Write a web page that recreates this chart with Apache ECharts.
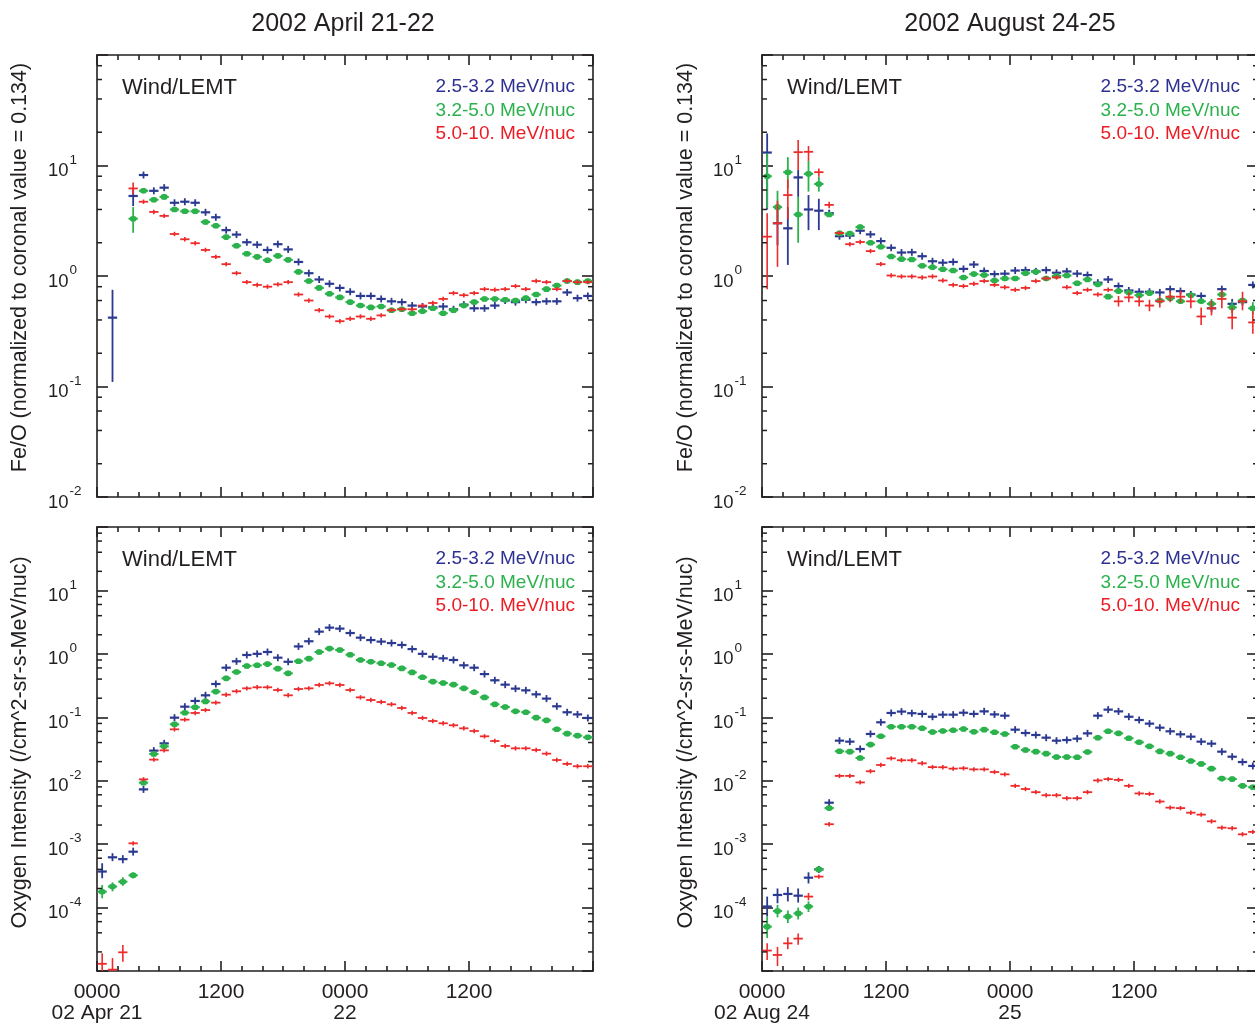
<!DOCTYPE html>
<html>
<head>
<meta charset="utf-8">
<script src="https://cdn.jsdelivr.net/npm/echarts@6/dist/echarts.min.js"></script>
<style>
html,body{margin:0;padding:0;background:#ffffff;}
#chart{width:1255px;height:1025px;}
</style>
</head>
<body>
<div id="chart"></div>
<script>
// ---------- categories / labels ----------
const hours = [0.5,1.5,2.5,3.5,4.5,5.5,6.5,7.5,8.5,9.5,10.5,11.5,12.5,13.5,14.5,15.5,16.5,17.5,18.5,19.5,20.5,21.5,22.5,23.5,
               24.5,25.5,26.5,27.5,28.5,29.5,30.5,31.5,32.5,33.5,34.5,35.5,36.5,37.5,38.5,39.5,40.5,41.5,42.5,43.5,44.5,45.5,46.5,47.5];
const xTickHours = [0, 12, 24, 36];
const xLabelsApr = ['0000\n02 Apr 21', '1200', '0000\n22', '1200'];
const xLabelsAug = ['0000\n02 Aug 24', '1200', '0000\n25', '1200'];
const yLabelExpFeO = [-2, -1, 0, 1];
const yLabelExpOxy = [-4, -3, -2, -1, 0, 1];
const minorMultipliers = [2, 4, 6, 8];
const rangeFeO = [0.01, 100];
const rangeOxy = [1e-5, 100];
const panelTitles = ['2002 April 21-22', '2002 August 24-25'];
const yTitles = ['Fe/O (normalized to coronal value = 0.134)', 'Oxygen Intensity (/cm^2-sr-s-MeV/nuc)'];
const instrumentLabel = 'Wind/LEMT';
const seriesNames = ['2.5-3.2 MeV/nuc', '3.2-5.0 MeV/nuc', '5.0-10. MeV/nuc'];

// ---------- Fe/O, April 21-22 ----------
const feoAprBlue  = [null,0.42,null,5.3,8.2,5.9,6.3,4.6,4.7,4.6,3.77,3.4,2.6,2.37,2.02,1.92,1.72,1.94,1.74,1.34,1.06,0.93,0.85,0.78,
                     0.72,0.66,0.66,0.62,0.59,0.58,0.54,0.53,0.52,0.53,0.50,0.55,0.51,0.51,0.54,0.60,0.58,0.61,0.58,0.59,0.59,0.71,0.63,0.66];
const feoAprGreen = [null,null,null,3.3,5.9,4.9,5.2,4.0,3.85,3.85,3.08,2.85,2.25,1.88,1.59,1.49,1.39,1.52,1.40,1.09,0.90,0.78,0.69,0.64,
                     0.58,0.54,0.52,0.53,0.49,0.50,0.46,0.48,0.51,0.46,0.49,0.54,0.58,0.62,0.62,0.61,0.60,0.63,0.68,0.76,0.82,0.90,0.88,0.90];
const feoAprRed   = [null,null,null,6.2,4.7,3.8,3.5,2.4,2.15,1.98,1.72,1.49,1.28,1.06,0.88,0.83,0.80,0.84,0.88,0.68,0.60,0.49,0.43,0.39,
                     0.41,0.43,0.41,0.44,0.49,0.50,0.50,0.54,0.57,0.62,0.70,0.67,0.70,0.76,0.75,0.76,0.81,0.76,0.90,0.88,0.76,0.90,0.88,0.88];
// error bars: [index, low, high]
const feoAprBlueErr  = [[1,0.11,0.75],[3,4.3,6.2]];
const feoAprGreenErr = [[3,2.46,4.2]];
const feoAprRedErr   = [[3,5.5,7.0]];

// ---------- Fe/O, August 24-25 ----------
const feoAugBlue  = [13.1,3.0,2.7,7.8,4.0,3.9,3.7,2.29,2.32,2.57,2.38,2.07,1.80,1.63,1.64,1.51,1.36,1.32,1.34,1.16,1.27,1.11,1.04,1.05,
                     1.12,1.13,1.10,1.13,1.07,1.10,1.05,1.02,0.87,0.93,0.81,0.74,0.72,0.72,0.71,0.76,0.73,0.68,0.66,0.51,0.76,0.56,0.58,0.83];
const feoAugGreen = [8.0,4.2,8.7,3.6,8.4,6.8,3.6,2.43,2.42,2.77,2.0,1.84,1.50,1.42,1.41,1.24,1.20,1.15,1.12,0.97,1.04,1.02,0.91,0.95,
                     0.95,1.06,1.09,0.95,1.00,1.01,0.86,0.93,0.84,0.65,0.73,0.71,0.67,0.70,0.60,0.63,0.59,0.67,0.59,0.56,0.68,0.52,0.60,0.51];
const feoAugRed   = [2.27,3.0,5.4,13.2,13.3,8.7,4.4,2.45,1.94,2.03,1.68,1.28,1.01,0.99,0.99,0.97,0.99,0.91,0.83,0.81,0.85,0.90,0.83,0.79,
                     0.75,0.78,0.90,0.95,0.97,0.79,0.70,0.75,0.68,0.75,0.59,0.64,0.59,0.54,0.59,0.65,0.65,0.59,0.43,0.51,0.62,0.42,0.59,0.38];
const feoAugBlueErr  = [[0,4.0,19.5],[1,1.9,4.5],[2,1.26,4.2],[3,5.2,9.1],[4,2.6,5.4],[5,2.6,5.0],[43,0.47,0.56],[45,0.51,0.62]];
const feoAugGreenErr = [[0,4.1,12.9],[1,3.0,5.9],[2,6.2,11.9],[3,2.0,5.2],[4,5.8,11.0],[5,5.8,7.9],[43,0.50,0.62],[45,0.46,0.59],[47,0.45,0.58]];
const feoAugRedErr   = [[0,0.76,3.7],[1,1.21,4.8],[2,3.3,7.5],[3,9.1,17.0],[4,11.0,15.0],[5,7.9,9.4],[6,4.1,4.7],
                        [34,0.53,0.66],[35,0.58,0.71],[36,0.53,0.66],[37,0.48,0.61],[38,0.52,0.66],[39,0.58,0.73],[40,0.57,0.74],
                        [41,0.51,0.68],[42,0.36,0.52],[43,0.44,0.60],[44,0.51,0.75],[45,0.33,0.52],[46,0.49,0.72],[47,0.30,0.48]];

// ---------- Oxygen intensity, April 21-22 ----------
const oxyAprBlue  = [3.7e-4,6.2e-4,5.8e-4,7.6e-4,7.3e-3,0.0298,0.0388,0.0986,0.147,0.181,0.222,0.335,0.605,0.763,0.96,1.0,1.07,0.87,0.75,1.31,1.58,2.24,2.59,2.50,
                     2.13,1.80,1.65,1.56,1.48,1.38,1.19,1.00,0.90,0.85,0.80,0.66,0.605,0.48,0.383,0.327,0.283,0.266,0.230,0.197,0.149,0.120,0.111,0.0975];
const oxyAprGreen = [1.78e-4,2.14e-4,2.56e-4,3.22e-4,9.3e-3,0.0264,0.0348,0.0774,0.118,0.144,0.178,0.254,0.411,0.518,0.644,0.66,0.69,0.585,0.493,0.763,0.84,1.07,1.21,1.15,
                     0.97,0.80,0.75,0.71,0.667,0.59,0.51,0.427,0.365,0.347,0.327,0.286,0.248,0.206,0.160,0.145,0.124,0.120,0.0986,0.0895,0.0646,0.0552,0.0513,0.0483];
const oxyAprRed   = [1.3e-5,1.05e-5,1.97e-5,1.03e-3,0.0105,0.0215,0.0301,0.0646,0.0917,0.117,0.130,0.170,0.227,0.257,0.286,0.297,0.297,0.269,0.222,0.279,0.286,0.323,0.343,0.323,
                     0.269,0.206,0.187,0.174,0.160,0.140,0.117,0.0975,0.0874,0.0804,0.0748,0.067,0.0608,0.0501,0.0423,0.0353,0.0324,0.0324,0.0305,0.0267,0.0212,0.0184,0.0169,0.0169];
const oxyAprBlueErr  = [[0,2.9e-4,5.0e-4],[1,5.4e-4,7.2e-4],[2,5.0e-4,6.7e-4],[3,6.6e-4,8.8e-4]];
const oxyAprGreenErr = [[0,1.4e-4,2.27e-4],[1,1.8e-4,2.5e-4],[2,2.2e-4,3.0e-4],[3,2.9e-4,3.6e-4]];
const oxyAprRedErr   = [[0,1.0e-5,1.9e-5],[1,1.0e-5,1.6e-5],[2,1.4e-5,2.57e-5]];

// ---------- Oxygen intensity, August 24-25 ----------
const oxyAugBlue  = [1.04e-4,1.58e-4,1.64e-4,1.54e-4,2.96e-4,4.0e-4,4.5e-3,0.0428,0.0413,0.0316,0.0546,0.0834,0.117,0.123,0.116,0.113,0.102,0.110,0.110,0.118,0.113,0.124,0.111,0.106,
                     0.0638,0.0565,0.0526,0.0477,0.0428,0.0438,0.046,0.0558,0.106,0.132,0.124,0.102,0.0906,0.0794,0.0686,0.0601,0.0539,0.0495,0.0413,0.0384,0.0287,0.0239,0.0197,0.0171];
const oxyAugGreen = [5.0e-5,8.8e-5,7.2e-5,8.1e-5,1.04e-4,4.0e-4,3.7e-3,0.0291,0.0287,0.0228,0.0371,0.0501,0.0711,0.0711,0.0711,0.067,0.0586,0.0608,0.0623,0.0653,0.0593,0.0638,0.058,0.0546,
                     0.0344,0.0305,0.0287,0.0267,0.0236,0.0236,0.0234,0.0284,0.0477,0.0601,0.0558,0.0466,0.0403,0.0348,0.029,0.0267,0.0234,0.0205,0.0184,0.0155,0.0108,0.0106,0.0083,0.0079];
const oxyAugRed   = [2.1e-5,1.79e-5,2.73e-5,3.24e-5,1.49e-4,3.08e-4,2.06e-3,0.0119,0.0119,0.0094,0.0141,0.0177,0.0225,0.021,0.021,0.0188,0.0164,0.0163,0.0155,0.0157,0.0151,0.0151,0.0137,0.0126,
                     0.0083,0.0074,0.0066,0.0059,0.0059,0.0053,0.0053,0.0066,0.0101,0.0106,0.0103,0.0083,0.0063,0.0062,0.0047,0.00376,0.0037,0.00313,0.00292,0.00229,0.00182,0.00178,0.00143,0.00156];
const oxyAugBlueErr  = [[0,7.2e-5,1.49e-4],[1,1.17e-4,2.0e-4],[2,1.25e-4,2.1e-4],[3,1.2e-4,2.0e-4],[4,2.4e-4,3.6e-4]];
const oxyAugGreenErr = [[0,3.3e-5,7.2e-5],[1,7.0e-5,1.1e-4],[2,5.7e-5,9.0e-5],[3,6.5e-5,1.0e-4],[4,8.5e-5,1.25e-4]];
const oxyAugRedErr   = [[0,1.49e-5,2.73e-5],[1,1.2e-5,2.4e-5],[2,2.2e-5,3.4e-5],[3,2.6e-5,3.9e-5],[4,1.3e-4,1.7e-4]];

// ---------- styling ----------
const FONT = '"Liberation Sans", Arial, Helvetica, sans-serif';
const INK = '#231f20';
const COLORS = ['#2b3990', '#2bb24c', '#ee2a2a'];
const TEXT_COLORS = ['#2e3192', '#2bb24c', '#ed1c24'];

const grids = [
  {left: 97,  top: 55,  width: 496, height: 442},
  {left: 762, top: 55,  width: 496, height: 442},
  {left: 97,  top: 527, width: 496, height: 444},
  {left: 762, top: 527, width: 496, height: 444}
];

const panels = [
  {range: rangeFeO, exps: yLabelExpFeO, xLabels: null, vals: [feoAprBlue, feoAprGreen, feoAprRed], errs: [feoAprBlueErr, feoAprGreenErr, feoAprRedErr]},
  {range: rangeFeO, exps: yLabelExpFeO, xLabels: null, vals: [feoAugBlue, feoAugGreen, feoAugRed], errs: [feoAugBlueErr, feoAugGreenErr, feoAugRedErr]},
  {range: rangeOxy, exps: yLabelExpOxy, xLabels: xLabelsApr, vals: [oxyAprBlue, oxyAprGreen, oxyAprRed], errs: [oxyAprBlueErr, oxyAprGreenErr, oxyAprRedErr]},
  {range: rangeOxy, exps: yLabelExpOxy, xLabels: xLabelsAug, vals: [oxyAugBlue, oxyAugGreen, oxyAugRed], errs: [oxyAugBlueErr, oxyAugGreenErr, oxyAugRedErr]}
];

const lineStyle = {color: INK, width: 1.6};

function buildData(vals, errs) {
  const errMap = {};
  errs.forEach(e => { errMap[e[0]] = e; });
  const out = [];
  vals.forEach((v, i) => {
    if (v == null) return;
    const e = errMap[i];
    out.push([hours[i], v, e ? e[1] : v, e ? e[2] : v]);
  });
  return out;
}

const markerStyles = [
  {color: COLORS[0], hLine: 2.2, vLine: 1.8, tick: 3.5, dot: false},
  {color: COLORS[1], hLine: 2.0, vLine: 1.8, tick: 2.5, dot: true},
  {color: COLORS[2], hLine: 1.8, vLine: 1.6, tick: 2.2, dot: false}
];

function errRender(ms) {
  return function (params, api) {
    const t = api.value(0), v = api.value(1), lo = api.value(2), hi = api.value(3);
    const c = api.coord([t, v]);
    const r = api.coord([t + 0.45, v]);
    const hw = r[0] - c[0];
    let yTop = c[1] - ms.tick, yBot = c[1] + ms.tick;
    const pl = api.coord([t, lo]), ph = api.coord([t, hi]);
    if (isFinite(pl[1])) yBot = Math.max(yBot, pl[1]);
    if (isFinite(ph[1])) yTop = Math.min(yTop, ph[1]);
    const children = [
      {type: 'line', shape: {x1: c[0] - hw, y1: c[1], x2: c[0] + hw, y2: c[1]}, style: {stroke: ms.color, lineWidth: ms.hLine}},
      {type: 'line', shape: {x1: c[0], y1: yTop, x2: c[0], y2: yBot}, style: {stroke: ms.color, lineWidth: ms.vLine}}
    ];
    if (ms.dot) {
      children.push({type: 'rect', shape: {x: c[0] - 3.5, y: c[1] - 2.8, width: 7, height: 5.6, r: 2.8}, style: {fill: ms.color}});
    }
    return {type: 'group', children: children};
  };
}

function minorTickRender(params, api) {
  const cs = params.coordSys;
  const p = api.coord([0, api.value(1)]);
  const st = {stroke: INK, lineWidth: 1.5};
  return {type: 'group', children: [
    {type: 'line', shape: {x1: cs.x, y1: p[1], x2: cs.x + 5, y2: p[1]}, style: st},
    {type: 'line', shape: {x1: cs.x + cs.width, y1: p[1], x2: cs.x + cs.width - 5, y2: p[1]}, style: st}
  ]};
}

const xAxis = [], yAxis = [], series = [];

panels.forEach((p, gi) => {
  const xFmt = v => {
    if (!p.xLabels) return '';
    const k = xTickHours.indexOf(v);
    return k >= 0 ? p.xLabels[k] : '';
  };
  const xBase = {
    type: 'value', gridIndex: gi, min: 0, max: 48, interval: 12,
    axisLine: {show: true, onZero: false, lineStyle: lineStyle},
    axisTick: {show: true, inside: true, length: 10, lineStyle: lineStyle},
    minorTick: {show: true, splitNumber: 6, length: 5, lineStyle: lineStyle},
    splitLine: {show: false}, minorSplitLine: {show: false}
  };
  xAxis.push(Object.assign({}, xBase, {
    position: 'bottom',
    axisLabel: {show: !!p.xLabels, formatter: xFmt, color: INK, fontFamily: FONT, fontSize: 21, lineHeight: 21, margin: 11,
                showMaxLabel: false, align: 'center'}
  }));
  xAxis.push(Object.assign({}, xBase, {position: 'top', axisLabel: {show: false}}));

  const yFmt = v => {
    const e = Math.round(Math.log10(v));
    return p.exps.indexOf(e) >= 0 ? '{b|10}{s|' + e + '}' : '';
  };
  const yBase = {
    type: 'log', logBase: 10, gridIndex: gi, min: p.range[0], max: p.range[1], interval: 1,
    splitNumber: Math.round(Math.log10(p.range[1] / p.range[0])),
    axisLine: {show: true, onZero: false, lineStyle: lineStyle},
    axisTick: {show: true, inside: true, length: 11, lineStyle: lineStyle},
    minorTick: {show: false}, splitLine: {show: false}
  };
  yAxis.push(Object.assign({}, yBase, {
    position: 'left',
    axisLabel: {show: true, formatter: yFmt, align: 'left', margin: 49, showMinLabel: true, showMaxLabel: true,
      rich: {
        b: {fontFamily: FONT, fontSize: 18.5, color: INK, padding: [11, 0, 0, 0]},
        s: {fontFamily: FONT, fontSize: 13.5, color: INK, padding: [0, 0, 11, 1]}
      }}
  }));
  yAxis.push(Object.assign({}, yBase, {position: 'right', axisLabel: {show: false}}));

  // minor log ticks (2,4,6,8 x each decade), drawn on both vertical frame sides
  const minorData = [];
  const e0 = Math.round(Math.log10(p.range[0])), e1 = Math.round(Math.log10(p.range[1]));
  for (let e = e0; e < e1; e++) {
    minorMultipliers.forEach(m => minorData.push([0, m * Math.pow(10, e)]));
  }
  series.push({
    type: 'custom', name: 'minor-ticks-' + gi, xAxisIndex: 2 * gi, yAxisIndex: 2 * gi,
    renderItem: minorTickRender, data: minorData, silent: true, encode: {x: 0, y: 1}, z: 5
  });

  p.vals.forEach((vals, si) => {
    series.push({
      type: 'custom', name: seriesNames[si], xAxisIndex: 2 * gi, yAxisIndex: 2 * gi,
      renderItem: errRender(markerStyles[si]),
      dimensions: ['t', 'v', 'lo', 'hi'], encode: {x: 0, y: 1},
      data: buildData(vals, p.errs[si]), clip: true, z: 2 + si
    });
  });
});

// ---------- texts ----------
const graphic = [];
function txt(x, y, text, size, color, align, rot) {
  graphic.push({
    type: 'text', x: x, y: y, rotation: rot || 0, silent: true,
    style: {text: text, fill: color, font: size + 'px ' + FONT, align: align, verticalAlign: 'middle'}
  });
}
txt(343, 24, panelTitles[0], 25, INK, 'center');
txt(1010, 24, panelTitles[1], 25, INK, 'center');
[[20.5, 267.5, 0], [686, 267.5, 0], [20.5, 742.5, 1], [686, 742.5, 1]].forEach(a => {
  txt(a[0], a[1], yTitles[a[2]], 21.5, INK, 'center', Math.PI / 2);
});
[[122, 575, 88], [787, 1240, 88], [122, 575, 560], [787, 1240, 560]].forEach(a => {
  txt(a[0], a[2], instrumentLabel, 22, INK, 'left');
  seriesNames.forEach((n, k) => txt(a[1], a[2] - 1 + 23.3 * k, n, 19, TEXT_COLORS[k], 'right'));
});

const chart = echarts.init(document.getElementById('chart'), null, {renderer: 'canvas'});
chart.setOption({
  animation: false,
  backgroundColor: '#ffffff',
  grid: grids.map(g => Object.assign({outerBoundsMode: 'none', containLabel: false}, g)),
  xAxis: xAxis,
  yAxis: yAxis,
  series: series,
  graphic: graphic
});
</script>
</body>
</html>
